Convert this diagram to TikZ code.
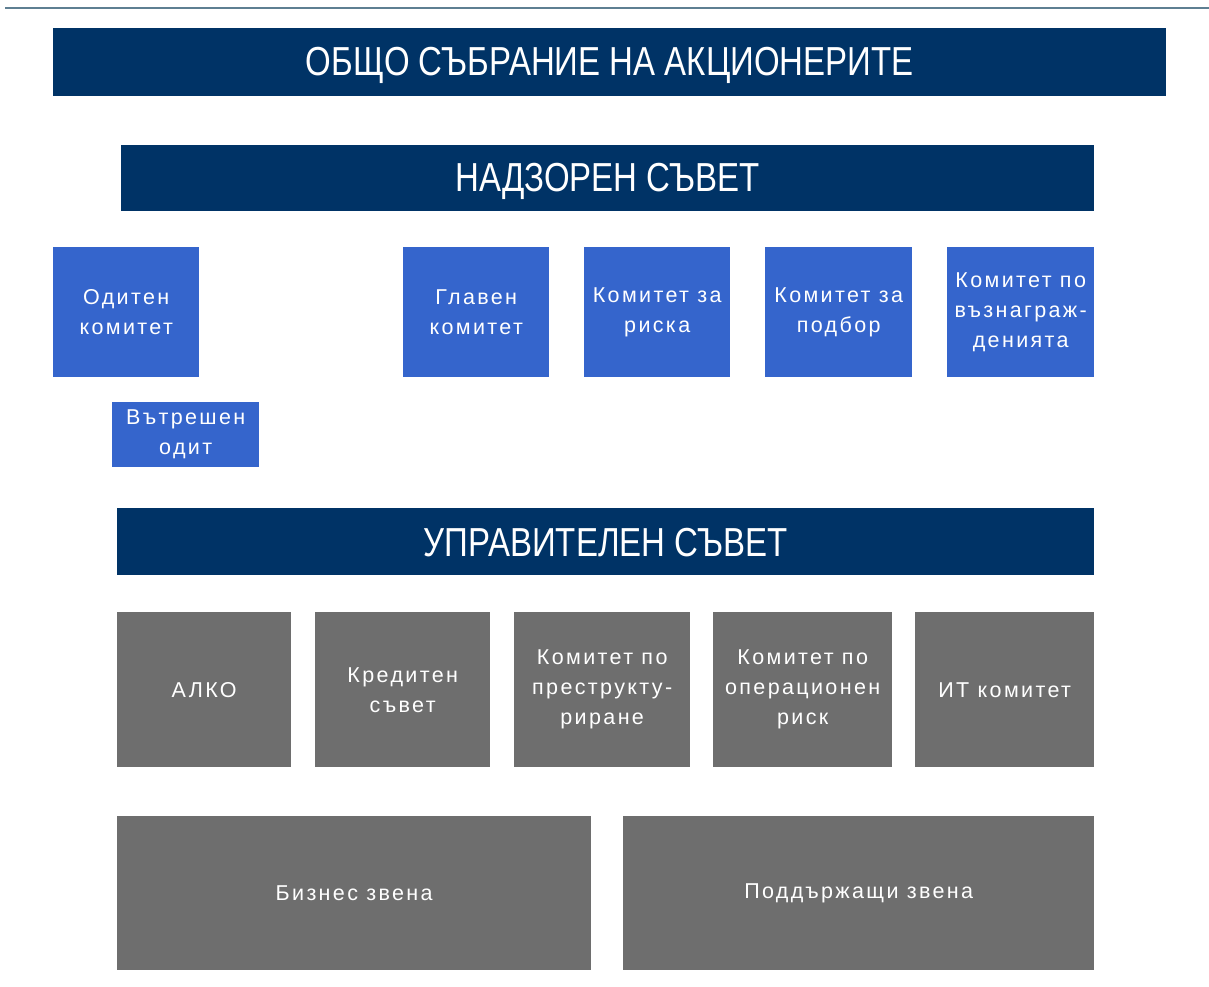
\documentclass[tikz,border=0pt]{standalone}
\usepackage{fontspec}
\setmainfont{Liberation Sans}
\newfontfamily\spacedfont[LetterSpace=11]{Liberation Sans}
\definecolor{navy}{HTML}{003366}
\definecolor{mblue}{HTML}{3565CC}
\definecolor{mgray}{HTML}{6E6E6E}
\definecolor{rule}{HTML}{5E7F92}
\newcommand{\hdrtext}[1]{\scalebox{1.1}[1.35]{#1}}
\begin{document}
\begin{tikzpicture}[x=1pt,y=-1pt,
  box/.style={anchor=north west,inner sep=0pt,text=white,align=center},
  hdr/.style={box,fill=navy},
  hlabel/.style={text=white,inner sep=0pt,yshift=-3pt,font=\fontsize{30}{34}\selectfont},
  bbox/.style={box,fill=mblue,font=\spacedfont\fontsize{21.5}{30}\selectfont},
  gbox/.style={box,fill=mgray,font=\spacedfont\fontsize{21.5}{30}\selectfont}]
\useasboundingbox (0,0) rectangle (1209,986);
\draw[rule,line width=2pt] (5,8) -- (1209,8);
\node[hdr,minimum width=1113pt,minimum height=68pt,label={[hlabel]center:\hdrtext{ОБЩО СЪБРАНИЕ НА АКЦИОНЕРИТЕ}}] (osa) at (53,28) {};
\node[hdr,minimum width=973pt,minimum height=66pt,label={[hlabel]center:\hdrtext{НАДЗОРЕН СЪВЕТ}}] (ns) at (121,145) {};
\node[bbox,minimum width=146pt,minimum height=130pt] (od) at (53,247) {Одитен\\комитет};
\node[bbox,minimum width=146pt,minimum height=130pt] (gl) at (403,247) {Главен\\комитет};
\node[bbox,minimum width=146pt,minimum height=130pt] (ri) at (584,247) {Комитет за\\риска};
\node[bbox,minimum width=147pt,minimum height=130pt] (po) at (765,247) {Комитет за\\подбор};
\node[bbox,minimum width=147pt,minimum height=130pt] (vz) at (947,247) {Комитет по\\възнаграж-\\денията};
\node[bbox,minimum width=147pt,minimum height=65pt] (vo) at (112,402) {Вътрешен\\одит};
\node[hdr,minimum width=977pt,minimum height=67pt,label={[hlabel,yshift=2pt]center:\hdrtext{УПРАВИТЕЛЕН СЪВЕТ}}] (us) at (117,508) {};
\node[gbox,minimum width=174pt,minimum height=155pt] (al) at (117,612) {АЛКО};
\node[gbox,minimum width=175pt,minimum height=155pt] (kr) at (315,612) {Кредитен\\съвет};
\node[gbox,minimum width=176pt,minimum height=155pt] (pr) at (514,612) {Комитет по\\преструкту-\\риране};
\node[gbox,minimum width=179pt,minimum height=155pt] (op) at (713,612) {Комитет по\\операционен\\риск};
\node[gbox,minimum width=179pt,minimum height=155pt] (it) at (915,612) {ИТ комитет};
\node[gbox,minimum width=474pt,minimum height=154pt] (bz) at (117,816) {Бизнес звена};
\node[gbox,minimum width=471pt,minimum height=154pt] (pz) at (623,816) {Поддържащи звена};
\end{tikzpicture}
\end{document}
